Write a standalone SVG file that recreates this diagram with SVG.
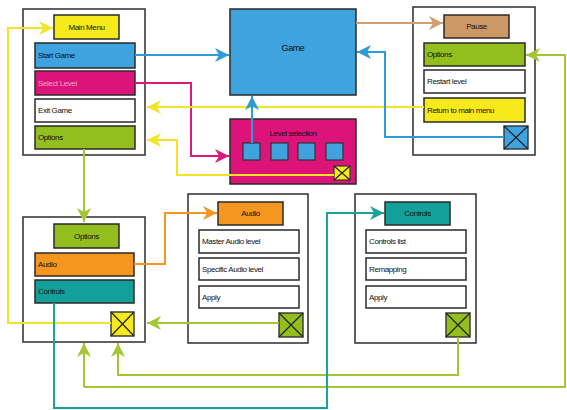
<svg xmlns="http://www.w3.org/2000/svg" width="567" height="410" viewBox="0 0 567 410">
<style>
.panel{fill:#fff;stroke:#3a3a3a;stroke-width:1.6}
.item{stroke:#2a2a2a;stroke-width:1.5}
.t{font-family:"Liberation Sans",Arial,sans-serif;font-size:8px;fill:#111;letter-spacing:-0.4px}
.c{text-anchor:middle}
.ln{fill:none;stroke-width:2}
.xl{stroke:#222;stroke-width:1.2}
</style>
<defs>
<marker id="aB" markerUnits="userSpaceOnUse" markerWidth="14" markerHeight="14" refX="14" refY="7" orient="auto"><path d="M0,0 L14,7 L0,14 L4,7 z" fill="#2e9ad8"/></marker>
<marker id="aM" markerUnits="userSpaceOnUse" markerWidth="14" markerHeight="14" refX="14" refY="7" orient="auto"><path d="M0,0 L14,7 L0,14 L4,7 z" fill="#e0187c"/></marker>
<marker id="aY" markerUnits="userSpaceOnUse" markerWidth="14" markerHeight="14" refX="14" refY="7" orient="auto"><path d="M0,0 L14,7 L0,14 L4,7 z" fill="#f2e624"/></marker>
<marker id="aG" markerUnits="userSpaceOnUse" markerWidth="14" markerHeight="14" refX="14" refY="7" orient="auto"><path d="M0,0 L14,7 L0,14 L4,7 z" fill="#a3c634"/></marker>
<marker id="aO" markerUnits="userSpaceOnUse" markerWidth="14" markerHeight="14" refX="14" refY="7" orient="auto"><path d="M0,0 L14,7 L0,14 L4,7 z" fill="#f5961e"/></marker>
<marker id="aT" markerUnits="userSpaceOnUse" markerWidth="14" markerHeight="14" refX="14" refY="7" orient="auto"><path d="M0,0 L14,7 L0,14 L4,7 z" fill="#1aa39e"/></marker>
<marker id="aN" markerUnits="userSpaceOnUse" markerWidth="14" markerHeight="14" refX="14" refY="7" orient="auto"><path d="M0,0 L14,7 L0,14 L4,7 z" fill="#d0a070"/></marker>
</defs>

<g id="main-menu">
<rect class="panel" x="23" y="9" width="122" height="146"/>
<rect class="item" x="54" y="15" width="65" height="24" fill="#f7ea1a"/>
<text class="t c" x="86.5" y="30">Main Menu</text>
<rect class="item" x="35" y="43" width="100" height="25" fill="#3ea3de"/>
<text class="t" x="38" y="58">Start Game</text>
<rect class="item" x="35" y="71" width="100" height="24" fill="#dc147a"/>
<text class="t" x="38" y="86" style="fill:#f3a3c8">Select Level</text>
<rect class="item" x="35" y="99" width="100" height="23" fill="#fff"/>
<text class="t" x="38" y="113">Exit Game</text>
<rect class="item" x="35" y="126" width="100" height="23" fill="#93bf1e"/>
<text class="t" x="38" y="140">Options</text>
</g>

<g id="game">
<rect x="230" y="9" width="126" height="86" fill="#3ea3de" stroke="#2a2a2a" stroke-width="1.5"/>
<text class="t c" x="293" y="51" style="font-size:9px">Game</text>
</g>

<g id="level-selection">
<rect x="230" y="119" width="126" height="65" fill="#dc147a" stroke="#2a2a2a" stroke-width="1.5"/>
<text class="t c" x="293" y="136">Level selection</text>
<rect x="243" y="143" width="17" height="17" fill="#3ea3de" stroke="#333" stroke-width="1.2"/>
<rect x="271" y="143" width="17" height="17" fill="#3ea3de" stroke="#333" stroke-width="1.2"/>
<rect x="298" y="143" width="17" height="17" fill="#3ea3de" stroke="#333" stroke-width="1.2"/>
<rect x="326" y="143" width="17" height="17" fill="#3ea3de" stroke="#333" stroke-width="1.2"/>
<rect x="334" y="166" width="16" height="14" fill="#f7ea1a" stroke="#333" stroke-width="1.2"/>
<path class="xl" d="M334,166 L350,180 M350,166 L334,180"/>
</g>

<g id="pause">
<rect class="panel" x="413" y="7" width="122" height="148"/>
<rect class="item" x="444" y="15" width="65" height="23" fill="#cc9966"/>
<text class="t c" x="476.5" y="29">Pause</text>
<rect class="item" x="424" y="43" width="101" height="23" fill="#93bf1e"/>
<text class="t" x="427" y="57">Options</text>
<rect class="item" x="424" y="70" width="101" height="23" fill="#fff"/>
<text class="t" x="427" y="84">Restart level</text>
<rect class="item" x="424" y="98" width="101" height="24" fill="#f7ea1a"/>
<text class="t" x="427" y="113">Return to main menu</text>
<rect x="504" y="126" width="24" height="23" fill="#3ea3de" stroke="#333" stroke-width="1.4"/>
<path class="xl" d="M504,126 L528,149 M528,126 L504,149"/>
</g>

<g id="options">
<rect class="panel" x="23" y="217" width="122" height="125"/>
<rect class="item" x="54" y="224" width="65" height="24" fill="#93bf1e"/>
<text class="t c" x="86.5" y="239">Options</text>
<rect class="item" x="35" y="253" width="99" height="23" fill="#f5961e"/>
<text class="t" x="38" y="267">Audio</text>
<rect class="item" x="35" y="280" width="99" height="23" fill="#13a09b"/>
<text class="t" x="38" y="294">Controls</text>
<rect x="111" y="312" width="23" height="24" fill="#f7ea1a" stroke="#333" stroke-width="1.4"/>
<path class="xl" d="M111,312 L134,336 M134,312 L111,336"/>
</g>

<g id="audio">
<rect class="panel" x="188" y="194" width="120" height="149"/>
<rect class="item" x="218" y="202" width="65" height="23" fill="#f5961e"/>
<text class="t c" x="250.5" y="216">Audio</text>
<rect class="item" x="199" y="230" width="100" height="23" fill="#fff"/>
<text class="t" x="202" y="244">Master Audio level</text>
<rect class="item" x="199" y="258" width="100" height="22" fill="#fff"/>
<text class="t" x="202" y="272">Specific Audio level</text>
<rect class="item" x="199" y="286" width="100" height="22" fill="#fff"/>
<text class="t" x="202" y="300">Apply</text>
<rect x="279" y="313" width="24" height="24" fill="#93bf1e" stroke="#333" stroke-width="1.4"/>
<path class="xl" d="M279,313 L303,337 M303,313 L279,337"/>
</g>

<g id="controls">
<rect class="panel" x="355" y="194" width="121" height="149"/>
<rect class="item" x="385" y="202" width="65" height="23" fill="#13a09b"/>
<text class="t c" x="417.5" y="216">Controls</text>
<rect class="item" x="366" y="230" width="100" height="23" fill="#fff"/>
<text class="t" x="369" y="244">Controls list</text>
<rect class="item" x="366" y="258" width="100" height="22" fill="#fff"/>
<text class="t" x="369" y="272">Remapping</text>
<rect class="item" x="366" y="286" width="100" height="22" fill="#fff"/>
<text class="t" x="369" y="300">Apply</text>
<rect x="446" y="313" width="24" height="24" fill="#93bf1e" stroke="#333" stroke-width="1.4"/>
<path class="xl" d="M446,313 L470,337 M470,313 L446,337"/>
</g>

<g id="connectors">
<path class="ln" stroke="#2e9ad8" d="M135,55 H229" marker-end="url(#aB)"/>
<path class="ln" stroke="#e0187c" d="M135,83 H191 V156 H229" marker-end="url(#aM)"/>
<path class="ln" stroke="#f2e624" d="M424,107 H147" marker-end="url(#aY)"/>
<path class="ln" stroke="#f2e624" d="M334,175 H177 V140 H147" marker-end="url(#aY)"/>
<path class="ln" stroke="#2e9ad8" d="M252,143 V96" marker-end="url(#aB)"/>
<path class="ln" stroke="#d0a070" d="M356,23 H443" marker-end="url(#aN)"/>
<path class="ln" stroke="#2e9ad8" d="M504,137 H385 V52 H357" marker-end="url(#aB)"/>
<path class="ln" stroke="#a3c634" d="M84,387 H565 V55 H526" marker-end="url(#aG)"/>
<path class="ln" stroke="#a3c634" d="M84,387 V343" marker-end="url(#aG)"/>
<path class="ln" stroke="#a3c634" d="M458,337 V375 H118 V343" marker-end="url(#aG)"/>
<path class="ln" stroke="#a3c634" d="M279,323 H147" marker-end="url(#aG)"/>
<path class="ln" stroke="#f2e624" d="M111,323 H8 V28 H53" marker-end="url(#aY)"/>
<path class="ln" stroke="#a3c634" d="M84,149 V222" marker-end="url(#aG)"/>
<path class="ln" stroke="#f5961e" d="M134,264 H165 V213 H217" marker-end="url(#aO)"/>
<path class="ln" stroke="#1aa39e" d="M54,303 V408 H327 V213 H384" marker-end="url(#aT)"/>
</g>
</svg>
